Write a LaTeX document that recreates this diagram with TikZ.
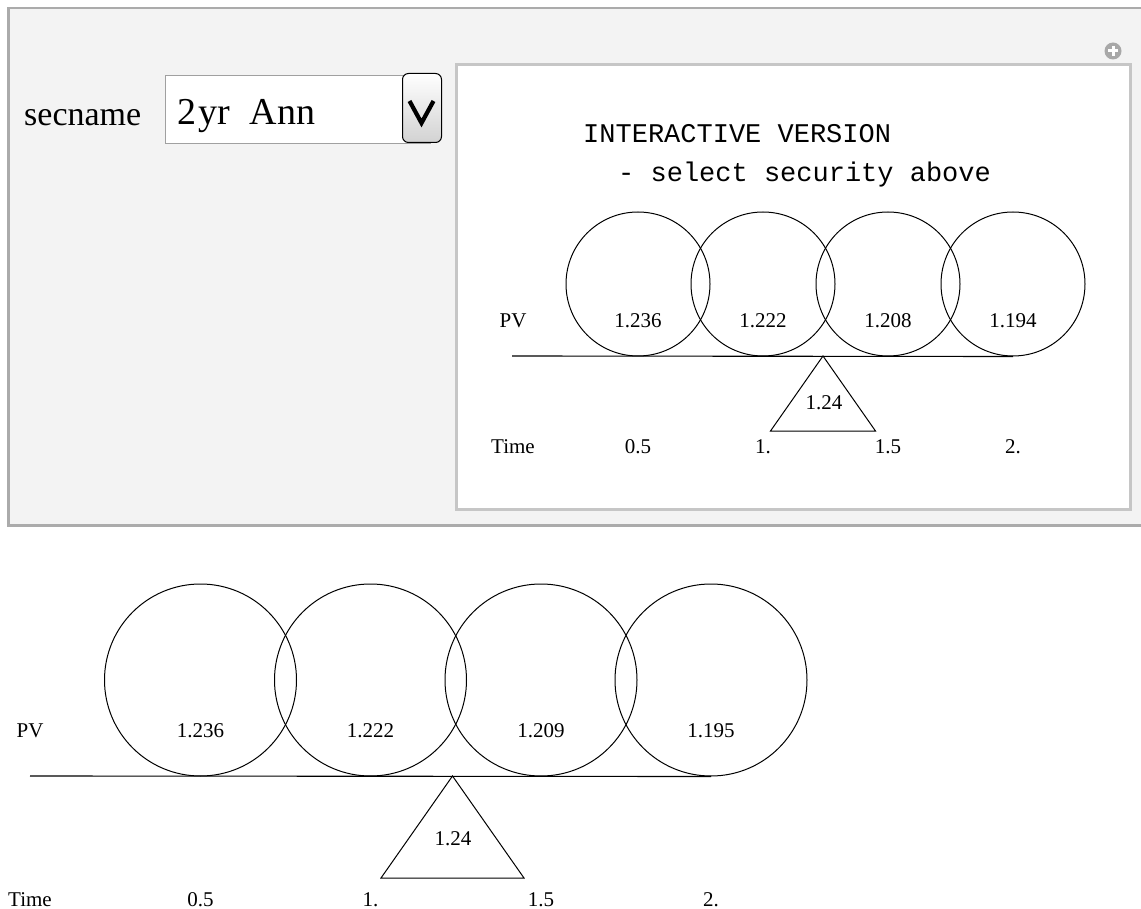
\documentclass[tikz,border=0pt]{standalone}
\usepackage{fontspec}
\setmainfont{Liberation Serif}
\newfontfamily\monofont{Liberation Mono}
\definecolor{panelfill}{HTML}{F3F3F3}
\definecolor{panelline}{HTML}{ABABAB}
\definecolor{viewline}{HTML}{C6C6C6}
\definecolor{fieldline}{HTML}{A0A0A0}
\definecolor{btnlow}{HTML}{D2D2D2}
\definecolor{iconfill}{HTML}{A8A8A8}
\begin{document}
\begin{tikzpicture}[x=1pt,y=-1pt,
  chartline/.style={line width=1.1pt,black},
  ball/.style={circle,draw,line width=1pt,inner sep=0pt},
  lbl/.style={anchor=base,inner sep=0pt,font=\fontsize{21}{25}\selectfont},
  mono/.style={anchor=base west,inner sep=0pt,font=\monofont\fontsize{27}{32}\selectfont}]
\useasboundingbox (0,0) rectangle (1141,909);
\clip (0,0) rectangle (1141,909);

% control panel
\draw[panelline,fill=panelfill,line width=2.5pt] (8.5,8) rectangle (1150,525.5);

% popup menu
\node[anchor=base west,inner sep=0pt,font=\fontsize{34}{40}\selectfont] (secname) at (24,126) {secname};
\draw[fieldline,fill=white,line width=1pt] (165.5,75.5) rectangle (430,144);
\node[anchor=base west,inner sep=0pt,font=\fontsize{38}{44}\selectfont] (choice) at (177,125) {2\kern2pt yr\hspace{20pt}Ann};
\draw[black,line width=1pt,rounded corners=6pt,top color=white,bottom color=btnlow] (402.5,73.5) rectangle (441.5,142.5);
\coordinate (vl) at (409.5,101);
\coordinate (vm) at (421.5,123);
\coordinate (vr) at (433.5,101);
\draw[line width=4.2pt,line join=miter] (vl) -- (vm) -- (vr);

% add-button
\fill[iconfill] (1113,51) circle (8.5);
\draw[white,line width=3pt] (1108,51) -- (1118,51) (1113,46) -- (1113,56);

% output pane
\draw[viewline,fill=white,line width=3pt] (456,64.5) rectangle (1130.5,509.5);

\node[mono] (title1) at (583,143) {INTERACTIVE VERSION};
\node[mono] (title2) at (618,182) {- select security above};

% small chart (250 px per year)
\foreach \x/\v/\t [count=\i] in {638/1.236/0.5, 763/1.222/1., 888/1.208/1.5, 1013/1.194/2.}{
  \node[ball,minimum size=144pt] (sc\i) at (\x,284) {};
  \node[lbl] (sv\i) at (\x,328) {\v};
  \node[lbl] (st\i) at (\x,453) {\t};
}
\node[lbl] (spv) at (513,328) {PV};
\node[lbl] (stime) at (513,453) {Time};
\coordinate (sa) at (512,356);
\coordinate (sb) at (sc4.south);
\draw[chartline] (sa) -- (sb);
\coordinate (stop) at (823,356);
\coordinate (sbl) at (770.5,431);
\coordinate (sbr) at (875.5,431);
\draw[line width=1pt,line join=miter] (stop) -- (sbl) -- (sbr) -- cycle;
\node[lbl] (sdur) at (824,409) {1.24};

% large chart (341 px per year)
\foreach \x/\v/\t [count=\i] in {200.5/1.236/0.5, 370.5/1.222/1., 541/1.209/1.5, 711/1.195/2.}{
  \node[ball,minimum size=192pt] (bc\i) at (\x,680) {};
  \node[lbl] (bv\i) at (\x,737) {\v};
  \node[lbl] (bt\i) at (\x,906) {\t};
}
\node[lbl] (bpv) at (30,737) {PV};
\node[lbl] (btime) at (30,906) {Time};
\coordinate (ba) at (30,776);
\coordinate (bb) at (bc4.south);
\draw[chartline] (ba) -- (bb);
\coordinate (btop) at (452.5,776);
\coordinate (bbl) at (381,878);
\coordinate (bbr) at (524,878);
\draw[line width=1pt,line join=miter] (btop) -- (bbl) -- (bbr) -- cycle;
\node[lbl] (bdur) at (453,845) {1.24};
\end{tikzpicture}
\end{document}
